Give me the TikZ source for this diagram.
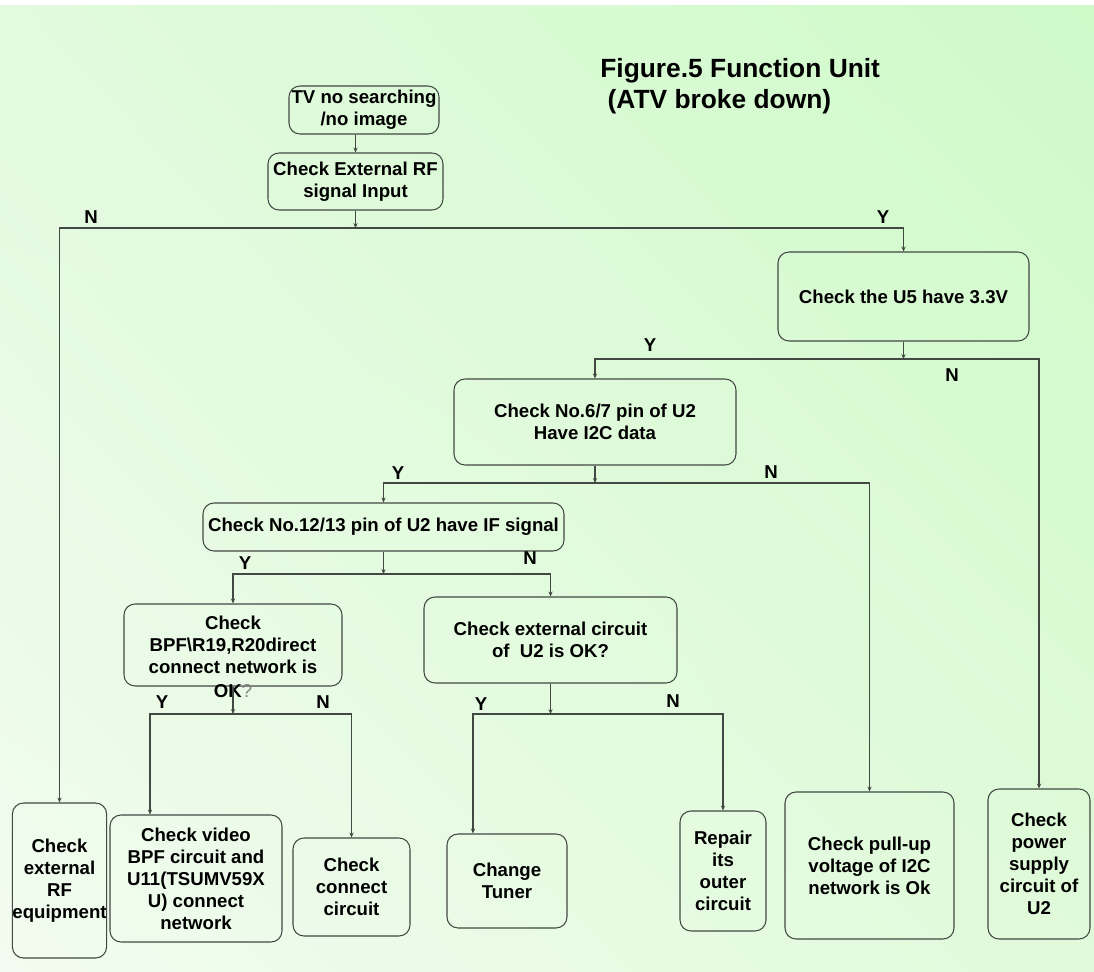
\documentclass[tikz,border=0pt]{standalone}
\usepackage{fontspec}
\setmainfont{Liberation Sans}
\usepackage{tikz}
\usetikzlibrary{arrows.meta,positioning,calc,shadings}
\usepackage{xcolor}
\definecolor{linegray}{RGB}{66,72,66}
\definecolor{bgul}{RGB}{226,250,222}
\definecolor{bgur}{RGB}{206,250,200}
\definecolor{bgll}{RGB}{242,252,240}
\definecolor{bglr}{RGB}{224,250,218}

\begin{document}
\begin{tikzpicture}[
    x=0.02cm, y=-0.02cm,
    box/.style={draw=linegray, line width=0.6pt, rounded corners=0.22cm, inner sep=0pt, align=center,
                font=\fontsize{10.6}{12.5}\selectfont\bfseries},
    wh/.style 2 args={minimum width=#1*0.02cm, minimum height=#2*0.02cm},
    arrow/.style={-{Stealth[length=2.8pt,width=2.4pt]}, draw=linegray, line width=0.8pt},
    yn/.style={font=\fontsize{10.6}{12}\selectfont\bfseries}
]
\useasboundingbox (0,0) rectangle (1094,972);
\fill[white] (0,0) rectangle (1094,6);
\shade[upper left=bgul, upper right=bgur, lower left=bgll, lower right=bglr] (0,6) rectangle (1094,972);

\node[anchor=north west, align=left, inner sep=0pt, font=\fontsize{15}{17.6}\selectfont\bfseries] (title) at (600,58)
    {Figure.5 Function Unit\\\ (ATV broke down)};

\node[box, wh={150}{48}] (start) at (364,110) {TV no searching\\/no image};
\node[box, wh={175}{57}] (rf) at (355.5,181.5) {Check External RF\\signal Input};
\node[box, wh={251}{89}] (u5) at (903.5,296.5) {Check the U5 have 3.3V};
\node[box, wh={282}{86}] (i2c) at (595,422) {Check No.6/7 pin of U2\\Have I2C data};
\node[box, wh={361}{48}] (ifsig) at (383.5,527) {Check No.12/13 pin of U2 have IF signal};
\node[box, wh={218}{82}] (bpf) at (233,645) {Check\\BPF\textbackslash R19,R20direct\\connect network is};
\node[yn, inner sep=0pt] (bpfok) at (233,691) {OK\textcolor{gray}{\mdseries ?}};
\node[box, wh={253}{86}] (ext) at (550.5,640) {Check external circuit\\of\ \ U2 is OK?};
\node[box, wh={93}{155}] (extrf) at (59.5,880.5) {Check\\external\\RF\\equipment};
\node[box, wh={172}{127}] (video) at (196,878.5) {Check video\\BPF circuit and\\U11(TSUMV59X\\U) connect\\network};
\node[box, wh={117}{98}] (conn) at (351.5,887) {Check\\connect\\circuit};
\node[box, wh={120}{94}] (tuner) at (507,881) {Change\\Tuner};
\node[box, wh={86}{120}] (repair) at (723,871) {Repair\\its\\outer\\circuit};
\node[box, wh={169}{147}] (pullup) at (869.5,865.5) {Check pull-up\\voltage of I2C\\network is Ok};
\node[box, wh={102}{150}] (power) at (1039,864) {Check\\power\\supply\\circuit of\\U2};

\coordinate (j1) at (355.5,228);
\coordinate (j2) at (903.5,359);
\coordinate (j3) at (595,483);
\coordinate (j4) at (383.5,574);
\coordinate (j5) at (233,714);
\coordinate (j6) at (550.5,714);

\draw[arrow] (start.south -| rf.north) -- (rf);
\draw[arrow] (rf) -- (j1);
\draw[arrow] (j1) -| (extrf);
\draw[arrow] (j1) -| (u5);
\draw[arrow] (u5) -- (j2);
\draw[arrow] (j2) -| (i2c);
\draw[arrow] (j2) -| (power);
\draw[arrow] (i2c) -- (j3);
\draw[arrow] (j3) -| (ifsig);
\draw[arrow] (j3) -| (pullup);
\draw[arrow] (ifsig) -- (j4);
\draw[arrow] (j4) -| (bpf);
\draw[arrow] (j4) -| (ext);
\draw[arrow] (bpf) -- (j5);
\draw[arrow] (j5) -| ($(video.north)+(-46,0)$);
\draw[arrow] (j5) -| (conn);
\draw[arrow] (ext) -- (j6);
\draw[arrow] (j6) -| ($(tuner.north)+(-34,0)$);
\draw[arrow] (j6) -| (repair);

\node[yn] (n1) at (91,217) {N};
\node[yn] (y1) at (883,217) {Y};
\node[yn] (y2) at (650,345) {Y};
\node[yn] (n2) at (952,375) {N};
\node[yn] (y3) at (398,473) {Y};
\node[yn] (n3) at (771,472) {N};
\node[yn] (y4) at (245,563) {Y};
\node[yn] (n4) at (530,558) {N};
\node[yn] (y5) at (162,702) {Y};
\node[yn] (n5) at (323,702) {N};
\node[yn] (y6) at (481,704) {Y};
\node[yn] (n6) at (673,701) {N};
\end{tikzpicture}
\end{document}
